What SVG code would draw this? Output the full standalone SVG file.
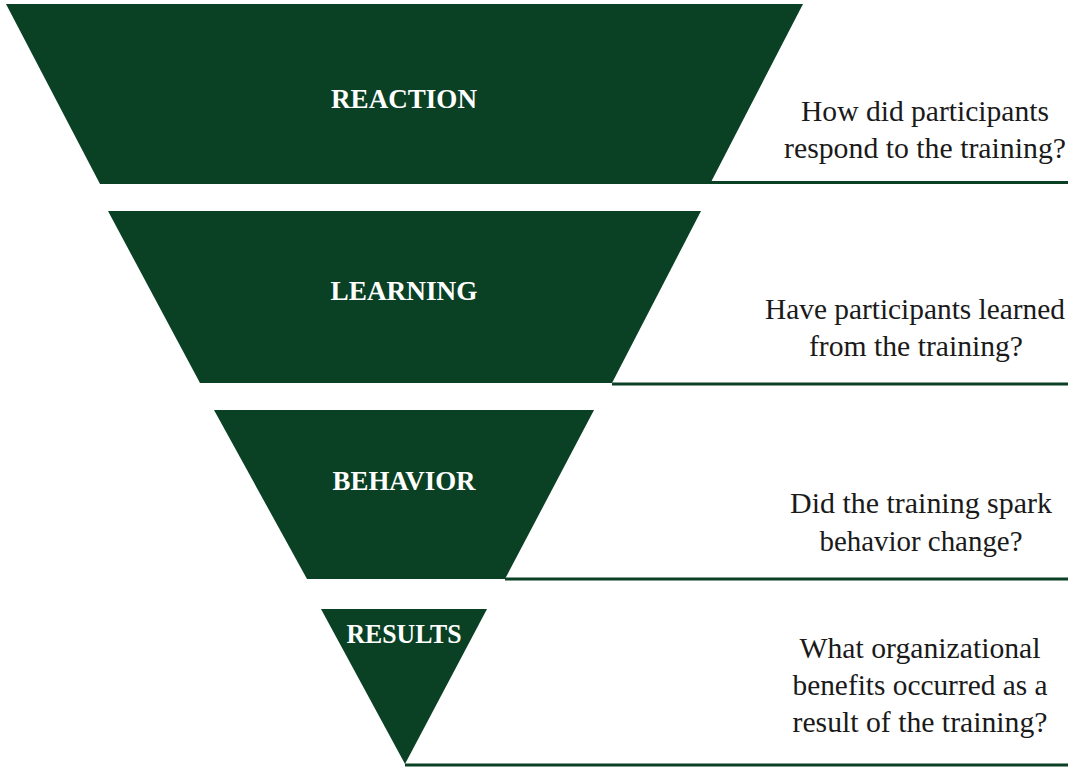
<svg xmlns="http://www.w3.org/2000/svg" width="1080" height="772" viewBox="0 0 1080 772">
<style>
.shape{fill:#0a4024}
.rule{stroke:#0a4024;stroke-width:3;fill:none}
.lbl{font-family:"Liberation Serif","Times New Roman",serif;font-weight:bold;font-size:27px;fill:#ffffff;text-anchor:middle}
.q{font-family:"Liberation Serif","Times New Roman",serif;font-size:29px;fill:#1a1a1a;text-anchor:middle}
</style>
<rect width="1080" height="772" fill="#ffffff"/>
<g id="connectors">
<line class="rule" x1="710" y1="182.5" x2="1068" y2="182.5"/>
<line class="rule" x1="612" y1="384" x2="1068" y2="384"/>
<line class="rule" x1="505" y1="579" x2="1068" y2="579"/>
<line class="rule" x1="405" y1="765" x2="1068" y2="765"/>
</g>
<g id="reaction">
<polygon class="shape" points="6,4 803,4 710,184 100,184"/>
<text class="lbl" x="404" y="108" textLength="146" lengthAdjust="spacingAndGlyphs">REACTION</text>
<text class="q" x="925" y="121" textLength="248" lengthAdjust="spacingAndGlyphs">How did participants</text>
<text class="q" x="925" y="158" textLength="282" lengthAdjust="spacingAndGlyphs">respond to the training?</text>
</g>
<g id="learning">
<polygon class="shape" points="108,211 701,211 612,383 200,383"/>
<text class="lbl" x="404" y="300" textLength="147" lengthAdjust="spacingAndGlyphs">LEARNING</text>
<text class="q" x="915" y="319" textLength="300" lengthAdjust="spacingAndGlyphs">Have participants learned</text>
<text class="q" x="916" y="356" textLength="214" lengthAdjust="spacingAndGlyphs">from the training?</text>
</g>
<g id="behavior">
<polygon class="shape" points="214,410 594,410 505,579 307,579"/>
<text class="lbl" x="404" y="490" textLength="143" lengthAdjust="spacingAndGlyphs">BEHAVIOR</text>
<text class="q" x="921" y="513" textLength="262" lengthAdjust="spacingAndGlyphs">Did the training spark</text>
<text class="q" x="921" y="551" textLength="203" lengthAdjust="spacingAndGlyphs">behavior change?</text>
</g>
<g id="results">
<polygon class="shape" points="321,609 487,609 405,764"/>
<text class="lbl" x="404" y="643" textLength="115" lengthAdjust="spacingAndGlyphs">RESULTS</text>
<text class="q" x="920" y="658" textLength="241" lengthAdjust="spacingAndGlyphs">What organizational</text>
<text class="q" x="920" y="695" textLength="255" lengthAdjust="spacingAndGlyphs">benefits occurred as a</text>
<text class="q" x="920" y="732" textLength="255" lengthAdjust="spacingAndGlyphs">result of the training?</text>
</g>
</svg>
